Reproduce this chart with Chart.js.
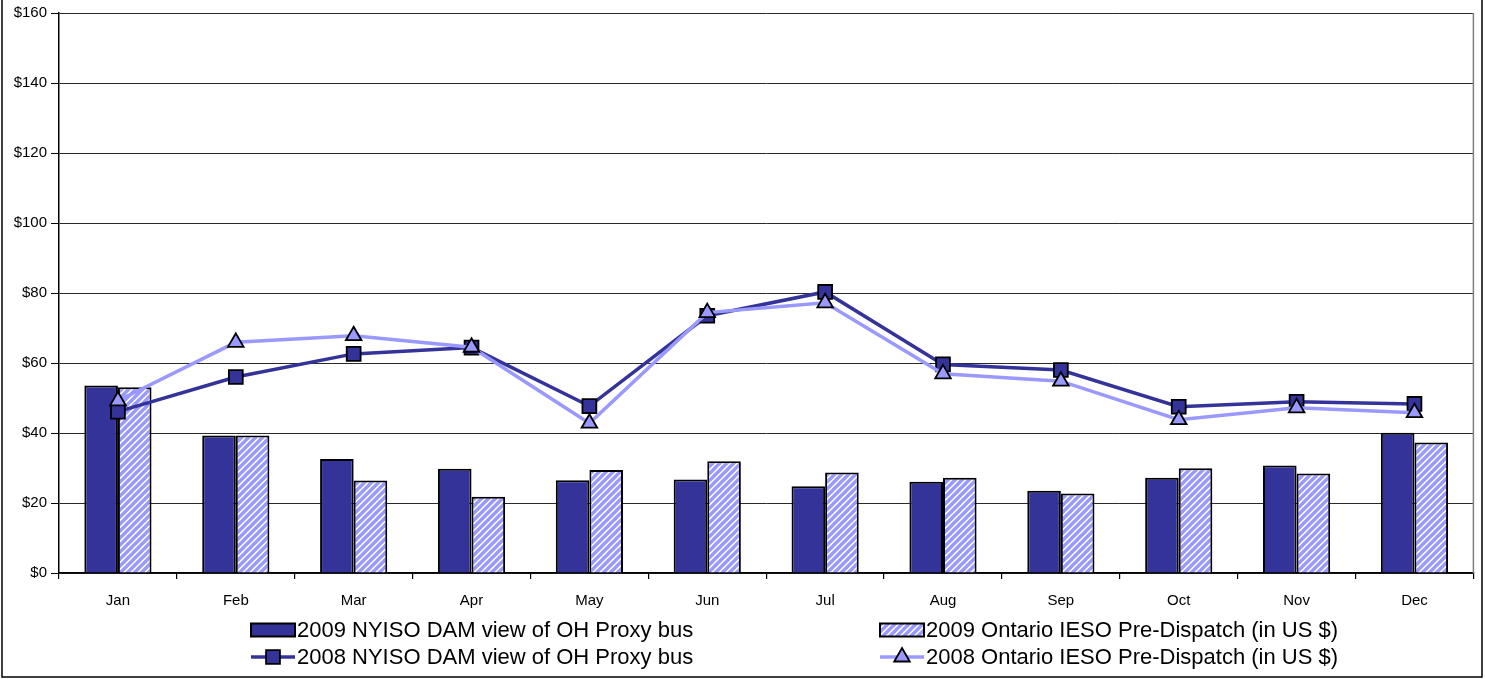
<!DOCTYPE html>
<html>
<head>
<meta charset="utf-8">
<script src="https://cdn.jsdelivr.net/npm/chart.js@4.4.1/dist/chart.umd.min.js"></script>
<style>
  html, body { margin: 0; padding: 0; background: #fff; }
  #wrap { width: 1485px; height: 679px; position: relative; }
</style>
</head>
<body>
<div id="wrap"><canvas id="chart"></canvas></div>
<script>
// monthly prices
const months = ["Jan","Feb","Mar","Apr","May","Jun","Jul","Aug","Sep","Oct","Nov","Dec"];
const nyiso2009 = [53.6, 39.3, 32.6, 29.8, 26.5, 26.7, 24.8, 26.1, 23.5, 27.2, 30.7, 40.1];
const ieso2009  = [53.1, 39.3, 26.4, 21.8, 29.4, 31.9, 28.7, 27.2, 22.7, 29.9, 28.4, 37.3];
const nyiso2008 = [46.1, 56.0, 62.6, 64.4, 47.7, 73.5, 80.3, 59.6, 58.0, 47.5, 48.9, 48.3];
const ieso2008  = [49.2, 65.9, 67.8, 64.5, 42.8, 74.4, 77.2, 56.9, 54.8, 43.8, 47.2, 45.8];
const yTicks = [0, 20, 40, 60, 80, 100, 120, 140, 160];

const FONT = "'Liberation Sans', Arial, sans-serif";
const DARK = "#333399", LIGHT = "#9999ff";

function hatch(ctx){
  const s = 7;
  const c = document.createElement("canvas"); c.width = s; c.height = s;
  const g = c.getContext("2d");
  g.fillStyle = "#fff"; g.fillRect(0, 0, s, s);
  g.strokeStyle = LIGHT; g.lineWidth = 3.4;
  g.beginPath();
  g.moveTo(-2, 2); g.lineTo(2, -2);
  g.moveTo(0, s); g.lineTo(s, 0);
  g.moveTo(s-2, s+2); g.lineTo(s+2, s-2);
  g.stroke();
  return ctx.createPattern(c, "repeat");
}

const ctx = document.getElementById("chart").getContext("2d");
const stripes = hatch(ctx);

// legend in two columns under the axis, plus frame lines
const bottomLegend = {
  id: "bottomLegend",
  afterDraw(chart){
    const c = chart.ctx, ds = chart.data.datasets, a = chart.chartArea;
    const cols = [251, 880], rows = [630, 657];
    c.save();
    // plot area right edge + outer frame
    c.strokeStyle = "#808080"; c.lineWidth = 1.5;
    c.beginPath(); c.moveTo(a.right, a.top); c.lineTo(a.right, a.bottom); c.stroke();
    c.strokeStyle = "#000"; c.lineWidth = 1.5;
    c.strokeRect(2, -2, 1480, 679);

    c.font = "22px " + FONT;
    c.textBaseline = "middle";
    ds.forEach((d, i)=>{
      const x = cols[i % 2], y = rows[Math.floor(i / 2)];
      if(d.type === "bar"){
        c.fillStyle = d.backgroundColor;
        c.fillRect(x, y - 6.5, 44, 13);
        c.strokeStyle = "#000"; c.lineWidth = 2;
        c.strokeRect(x, y - 6.5, 44, 13);
      } else {
        c.strokeStyle = d.borderColor; c.lineWidth = d.borderWidth;
        c.beginPath(); c.moveTo(x, y); c.lineTo(x + 44, y); c.stroke();
        c.fillStyle = d.pointBackgroundColor; c.strokeStyle = "#000"; c.lineWidth = 1.8;
        Chart.helpers.drawPoint(c, {pointStyle: d.pointStyle, radius: d.pointRadius, borderWidth: 1.8, rotation: 0}, x + 22, y);
      }
      c.fillStyle = "#000";
      c.fillText(d.label, x + 46, y + 1);
    });
    c.restore();
  }
};

new Chart(ctx, {
  data: {
    labels: months,
    datasets: [
      { type: "bar", label: "2009 NYISO DAM view of OH Proxy bus", data: nyiso2009,
        backgroundColor: DARK, borderColor: "#000", borderWidth: 2, order: 2 },
      { type: "bar", label: "2009 Ontario IESO Pre-Dispatch (in US $)", data: ieso2009,
        backgroundColor: stripes, borderColor: "#000", borderWidth: 2, order: 2 },
      { type: "line", label: "2008 NYISO DAM view of OH Proxy bus", data: nyiso2008,
        borderColor: DARK, borderWidth: 3.5, pointStyle: "rect", pointRadius: 9.8,
        pointBackgroundColor: DARK, pointBorderColor: "#000", pointBorderWidth: 1.8, tension: 0, order: 1 },
      { type: "line", label: "2008 Ontario IESO Pre-Dispatch (in US $)", data: ieso2008,
        borderColor: LIGHT, borderWidth: 3.5, pointStyle: "triangle", pointRadius: 9,
        pointBackgroundColor: LIGHT, pointBorderColor: "#000", pointBorderWidth: 1.8, tension: 0, order: 0 }
    ]
  },
  options: {
    responsive: true, maintainAspectRatio: false, animation: false,
    layout: { padding: { left: 0, right: 10, top: 13, bottom: 66 } },
    datasets: { bar: { categoryPercentage: 0.57, barPercentage: 1 } },
    plugins: { legend: { display: false }, tooltip: { enabled: false } },
    scales: {
      x: {
        offset: true,
        grid: { offset: true, drawOnChartArea: false, tickLength: 6, tickColor: "#000", lineWidth: 1.2 },
        border: { color: "#000", width: 1.5 },
        ticks: { color: "#000", font: { family: FONT, size: 15 }, padding: 13, maxRotation: 0 },
        afterFit(s){ s.height = 40; }
      },
      y: {
        min: 0, max: 160,
        afterBuildTicks(s){ s.ticks = yTicks.map(v=>({ value: v })); },
        grid: { color: "#2a2a2a", lineWidth: 1, tickLength: 8, tickColor: "#000" },
        border: { color: "#000", width: 1.5 },
        ticks: { color: "#000", font: { family: FONT, size: 15 }, padding: 4, callback: v=>"$" + v },
        afterFit(s){ s.width = 59; }
      }
    }
  },
  plugins: [bottomLegend]
});
</script>
</body>
</html>
